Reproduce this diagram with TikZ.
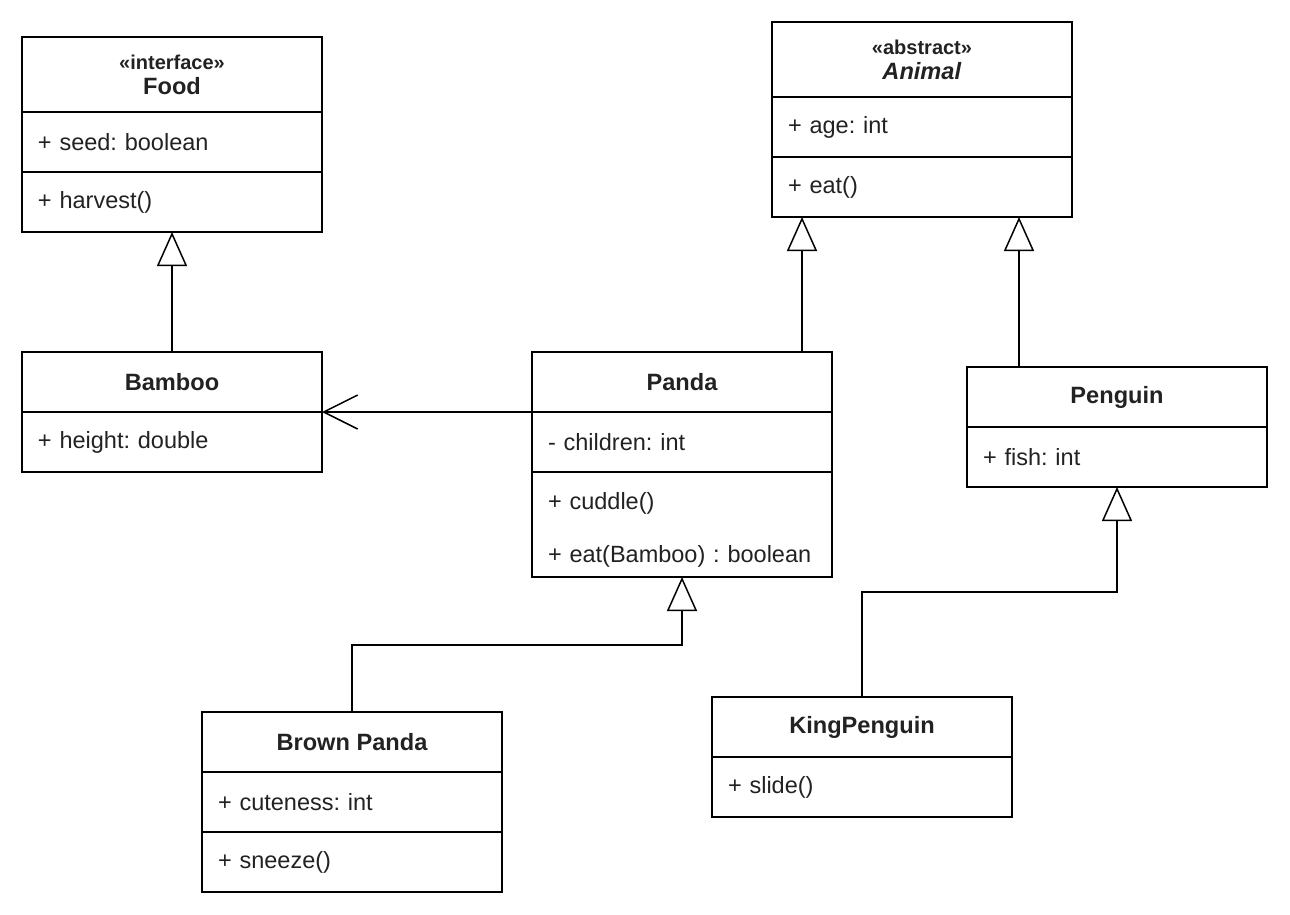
\documentclass[tikz,border=0pt]{standalone}
\usepackage{fontspec}
\setmainfont{Liberation Sans}
\usetikzlibrary{positioning,arrows.meta}
\definecolor{umltext}{RGB}{34,34,34}
\frenchspacing

\begin{document}
\begin{tikzpicture}[x=0.5pt,y=-0.5pt,
    classhead/.style={draw=black,line width=0.75pt,minimum width=150pt,inner sep=0pt,outer sep=0pt,
        align=center,text=umltext,font=\fontsize{11.8}{12.5}\selectfont\bfseries},
    classpart/.style={draw=black,line width=0.75pt,text width=134pt,inner xsep=8pt,inner ysep=0pt,
        outer sep=0pt,minimum height=30pt,align=left,text=umltext,font=\fontsize{11.75}{14}\selectfont},
    inherit/.style={line width=0.75pt,-{Triangle[open,length=17pt,width=15pt]}},
    assoc/.style={line width=0.75pt,-{Straight Barb[length=17pt,width=17pt]}}]
                \useasboundingbox (0,0) rectangle (1290,915);

                % interface Food
                \node[classhead,minimum height=37.5pt] (foodhead) at (172,74.5) {{\fontsize{10}{12.5}\selectfont «interface»}\\Food};
                \node[classpart,below=0pt of foodhead] (foodattr) {+ seed: boolean};
                \node[classpart,below=0pt of foodattr] (foodmeth) {+ harvest()};

                % abstract Animal
                \node[classhead,minimum height=37.5pt] (animalhead) at (922,59.5) {{\fontsize{10}{12.5}\selectfont «abstract»}\\\textit{Animal}};
                \node[classpart,below=0pt of animalhead] (animalattr) {+ age: int};
                \node[classpart,below=0pt of animalattr] (animalmeth) {+ eat()};

                % Bamboo
                \node[classhead,minimum height=30pt] (bamboohead) at (172,382) {Bamboo};
                \node[classpart,below=0pt of bamboohead] (bambooattr) {+ height: double};

                % Panda
                \node[classhead,minimum height=30pt] (pandahead) at (682,382) {Panda};
                \node[classpart,below=0pt of pandahead] (pandaattr) {- children: int};
                \node[classpart,minimum height=52.5pt,below=0pt of pandaattr] (pandameth) {\rule{0pt}{14pt}+ cuddle()\\[12.5pt]\mbox{+ eat(Bamboo) : boolean}};

                % Penguin
                \node[classhead,minimum height=30pt] (penguinhead) at (1117,397) {Penguin};
                \node[classpart,below=0pt of penguinhead] (penguinattr) {+ fish: int};

                % Brown Panda
                \node[classhead,minimum height=30pt] (brownhead) at (352,742) {Brown Panda};
                \node[classpart,below=0pt of brownhead] (brownattr) {+ cuteness: int};
                \node[classpart,below=0pt of brownattr] (brownmeth) {+ sneeze()};

                % KingPenguin
                \node[classhead,minimum height=30pt] (kinghead) at (862,727) {KingPenguin};
                \node[classpart,below=0pt of kinghead] (kingmeth) {+ slide()};

                \coordinate (pandatop) at ([xshift=-15pt]pandahead.north east);
                \coordinate (penguintop) at ([xshift=-49pt]penguinhead.north);

                \draw[inherit] (bamboohead.north) -- (foodmeth.south);
                \draw[inherit] (pandatop) -- (pandatop |- animalmeth.south);
                \draw[inherit] (penguintop) -- (penguintop |- animalmeth.south);
                \draw[assoc] (pandaattr.north west) -- (bambooattr.north east);
                \draw[inherit] (brownhead.north) -- ++(0pt,33.5pt) -| (pandameth.south);
                \draw[inherit] (kinghead.north) -- ++(0pt,52.5pt) -| (penguinattr.south);
            \end{tikzpicture}
\end{document}
